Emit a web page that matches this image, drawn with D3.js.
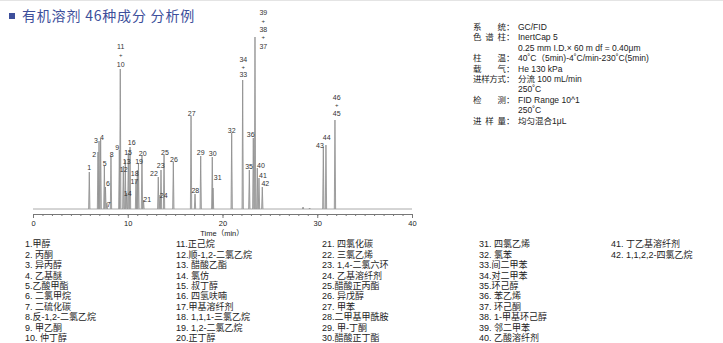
<!DOCTYPE html>
<html><head><meta charset="utf-8">
<script src="https://cdn.jsdelivr.net/npm/d3@7"></script>
<style>
html,body{margin:0;padding:0;background:#fff;}
svg{display:block;font-family:"Liberation Sans","Noto Sans CJK SC",sans-serif;}
</style></head>
<body><svg id="c" width="723" height="343"></svg>
<script>
// ---- data ----
const titleText = "有机溶剂 46种成分 分析例";
const peakTimes   = [5.94,6.86,6.97,7.14,7.53,7.65,7.80,8.23,9.11,9.21,9.53,9.74,9.87,10.06,10.24,10.87,11.01,11.13,11.50,11.66,13.22,13.40,13.51,13.83,14.81,16.68,17.10,17.70,18.92,19.00,20.97,22.13,22.83,23.25,23.43,23.67,23.85,24.20,28.50,29.20,30.64,30.92,31.87];
const peakHeights = [37,57,68,70,43,22,6,53,59,140,43,49,16,56,62,29,39,46,54,9,32,14,39,54,47,93,15,53,52,21,76,129,39,71,172,41,31,22,2,1,62,64,89];
const labelText   = ["1","2","3","4","5","6","7","8","9","10","+","11","12","13","14","15","16","17","18","19","20","21","22","23","24","25","26","27","28","29","30","31","32","33","+","34","35","36","37","+","38","+","39","40","41","42","43","44","45","+","46"];
const labelTime   = [5.94,6.47,6.65,7.28,7.57,7.92,7.99,8.31,8.90,9.26,9.26,9.26,9.57,9.89,9.99,10.03,10.42,10.69,10.73,11.19,11.58,12.06,12.77,13.48,13.79,13.93,14.88,16.75,17.13,17.70,18.97,19.49,20.97,22.20,22.20,22.20,22.80,22.98,24.31,24.31,24.31,24.31,24.31,24.06,24.27,24.52,30.29,31.00,32.05,32.05,32.05];
const labelSignal = [41.3,54.7,68.3,71.7,45.7,25,4.7,54.7,61.3,144.7,154,162.3,39.7,47.6,15.7,56.3,66.3,27.3,35,47.3,55.7,9.7,35.7,43,13,56.7,49.7,95.7,18.3,56.3,55.7,31.3,78.3,134,142.3,149.7,42.3,74.7,162.3,171.7,179.7,188.3,196.3,43.7,33.7,25,63.3,71.7,95,104,111.7];
const xTicks = [0,10,20,30,40];
const xTitle = "Time（min）";
const condLabels = ["系统","色谱柱","","柱温","载气","进样方式","","检测","","进样量"];
const condValues = ["GC/FID","InertCap 5","0.25 mm I.D.× 60 m df = 0.40μm","40˚C（5min)-4˚C/min-230˚C(5min)","He 130 kPa","分流 100 mL/min","250˚C","FID Range 10^1","250˚C","均匀混合1μL"];
const compounds = ["1.甲醇","2. 丙酮","3. 异丙醇","4. 乙基醚","5.乙酸甲酯","6. 二氯甲烷","7. 二硫化碳","8.反-1,2-二氯乙烷","9. 甲乙酮","10. 仲丁醇",
"11.正己烷","12.顺-1,2-二氯乙烷","13. 醋酸乙酯","14. 氯仿","15. 叔丁醇","16. 四氢呋喃","17.甲基溶纤剂","18. 1,1,1-三氯乙烷","19. 1,2-二氯乙烷","20.正丁醇",
"21. 四氯化碳","22. 三氯乙烯","23. 1,4-二氯六环","24. 乙基溶纤剂","25.醋酸正丙酯","26. 异戊醇","27. 甲苯","28.二甲基甲酰胺","29. 甲-丁酮","30.醋酸正丁酯",
"31. 四氯乙烯","32. 氯苯","33.间二甲苯","34.对二甲苯","35.环己醇","36. 苯乙烯","37. 环己酮","38. 1-甲基环己醇","39. 邻二甲苯","40. 乙酸溶纤剂",
"41. 丁乙基溶纤剂","42. 1,1,2,2-四氯乙烷"];

// ---- drawing ----
const svg = d3.select("#c");
svg.append("rect").attr("width",723).attr("height",343).attr("fill","#fff");
svg.append("line").attr("x1",0).attr("x2",723).attr("y1",0.5).attr("y2",0.5).attr("stroke","#e4e4e4");

// title
svg.append("rect").attr("x",9).attr("y",13).attr("width",6).attr("height",6).attr("fill","#3d4f9b");
svg.append("text").attr("x",22).attr("y",21).attr("font-size",14).attr("letter-spacing",0.8).attr("fill","#3d4f9b")
  .style("font-family","'Noto Sans CJK SC',sans-serif").text(titleText);

const x = d3.scaleLinear().domain([0,40]).range([33,412]);
const y = d3.scaleLinear().domain([0,180]).range([209,29]);

// baseline
svg.append("line").attr("x1",x(0)).attr("x2",x(40)).attr("y1",y(0)).attr("y2",y(0)).attr("stroke","#aaa").attr("stroke-width",1);

// peaks
const w = 0.07;
const peaks = peakTimes.map((t,i)=>({t,h:peakHeights[i]}));
svg.append("g").selectAll("path").data(peaks).join("path")
  .attr("d",d=>d3.line()([[x(d.t-w),y(0)],[x(d.t),y(d.h)],[x(d.t+w),y(0)]]))
  .attr("fill","#ccc").attr("stroke","#8c8c8c").attr("stroke-width",0.8);

// peak labels
svg.append("g").selectAll("text").data(labelText.map((s,i)=>({s,t:labelTime[i],v:labelSignal[i]}))).join("text")
  .attr("x",d=>x(d.t)).attr("y",d=>y(d.v)).attr("dy","0.35em").attr("text-anchor","middle")
  .attr("font-size",d=>d.s==="+"?6:7).attr("fill","#333").text(d=>d.s);

// axis
const ax = svg.append("g").attr("transform","translate(0,214)");
ax.call(d3.axisBottom(x).tickValues(d3.range(0,41,1)).tickSize(2).tickFormat(""));
ax.call(g=>g.select(".domain").remove());
const ax2 = svg.append("g").attr("transform","translate(0,214)");
ax2.call(d3.axisBottom(x).tickValues(xTicks).tickSize(4).tickSizeOuter(0).tickFormat(d3.format("d")));
svg.selectAll(".tick line").attr("stroke","#777");
ax2.select(".domain").attr("stroke","#777");
ax2.selectAll("text").attr("font-size",7.5).attr("fill","#222").attr("y",7);
svg.append("text").attr("x",222).attr("y",236).attr("text-anchor","middle").attr("font-size",7.5).attr("fill","#222").text(xTitle);

// conditions block
const cg = svg.append("g").attr("font-size",8.5).attr("fill","#222");
condValues.forEach((v,i)=>{
  const yy = 30 + i*10.4;
  const lab = condLabels[i];
  if(lab){
    const t = cg.append("text").attr("x",473).attr("y",yy).text(lab);
    if(lab.length>1) t.attr("textLength",33).attr("lengthAdjust","spacing");
    cg.append("text").attr("x",506).attr("y",yy).text("：");
  }
  cg.append("text").attr("x",518).attr("y",yy).text(v);
});

// legend
const colX = [25,176,322,479,611];
svg.append("g").selectAll("text").data(compounds).join("text")
  .attr("x",(d,i)=>colX[Math.floor(i/10)]).attr("y",(d,i)=>244+(i%10)*10.45).attr("dy","0.35em")
  .attr("font-size",9).attr("fill","#222").text(d=>d);
</script></body></html>
